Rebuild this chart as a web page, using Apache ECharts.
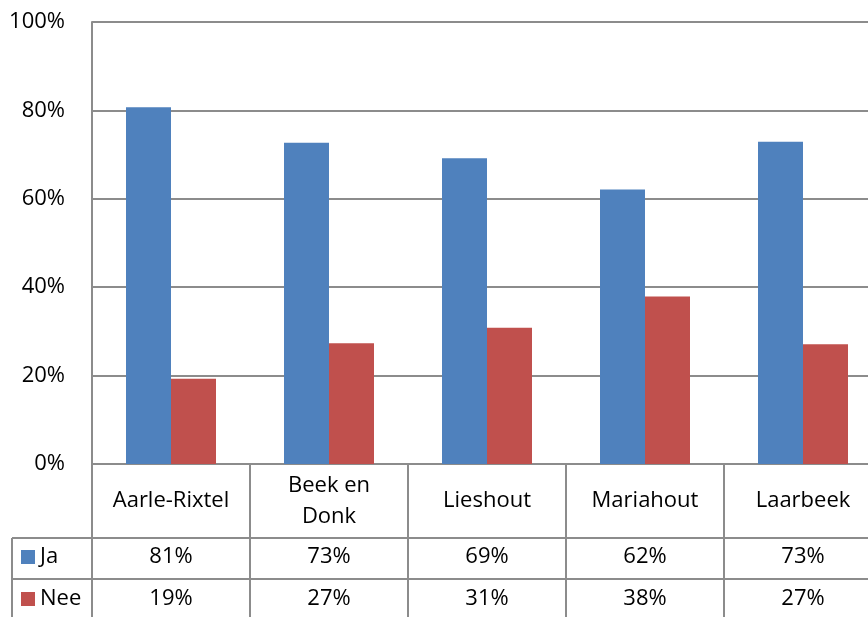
<!DOCTYPE html>
<html>
<head>
<meta charset="utf-8">
<script src="https://cdn.jsdelivr.net/npm/echarts@6/dist/echarts.min.js"></script>
<style>
  html, body { margin: 0; padding: 0; background: #fff; overflow: hidden; }
  /* wider than the window: the plot's right edge is cut off, as in the original */
  #chart { width: 882px; height: 617px; }
</style>
</head>
<body>
<div id="chart"></div>
<script>
const categories = ['Aarle-Rixtel', 'Beek en\nDonk', 'Lieshout', 'Mariahout', 'Laarbeek']
const jaValues = [80.7, 72.7, 69.2, 62.1, 72.9]
const neeValues = [19.3, 27.3, 30.8, 37.9, 27.1]
const yTicks = [0, 20, 40, 60, 80, 100]

const font = 'Open Sans'
const fontSize = 22
const lineColor = '#8c8c8c'

const plotLeft = 92
const plotTop = 22
const plotWidth = 790
const plotHeight = 442
const plotBottom = plotTop + plotHeight
const tableLeft = 12
const row1 = 538
const row2 = 579

const chart = echarts.init(document.getElementById('chart'))

const pct = v => Math.round(v) + '%'

const rowAxis = (values, margin) => ({
  type: 'category',
  position: 'bottom',
  data: values.map(pct),
  axisLine: { show: false },
  axisTick: { show: false },
  axisLabel: {
    interval: 0, margin, verticalAlign: 'middle',
    color: '#000', fontFamily: font, fontSize
  }
})

const option = {
  animation: false,
  grid: { left: plotLeft, top: plotTop, width: plotWidth, height: plotHeight, containLabel: false },
  legend: {
    orient: 'vertical',
    left: 21,
    top: 545,
    padding: 0,
    itemWidth: 14,
    itemHeight: 14,
    itemGap: 18,
    icon: 'rect',
    textStyle: { color: '#000', fontFamily: font, fontSize, lineHeight: 24 },
    data: ['Ja', 'Nee']
  },
  xAxis: [
    {
      type: 'category',
      position: 'bottom',
      data: categories,
      axisLine: { lineStyle: { color: lineColor, width: 2 } },
      axisTick: { show: true, interval: 0, length: 160, lineStyle: { color: lineColor, width: 2 } },
      axisLabel: {
        interval: 0, margin: 37, verticalAlign: 'middle', lineHeight: 31,
        color: '#000', fontFamily: font, fontSize
      }
    },
    rowAxis(jaValues, 93),
    rowAxis(neeValues, 135)
  ],
  yAxis: {
    type: 'value',
    min: 0,
    max: 100,
    interval: 20,
    axisLine: { show: true, lineStyle: { color: lineColor, width: 2 } },
    axisTick: { show: false },
    splitLine: { lineStyle: { color: lineColor, width: 2 } },
    axisLabel: {
      margin: 27,
      color: '#000', fontFamily: font, fontSize,
      formatter: v => yTicks.includes(v) ? v + '%' : ''
    }
  },
  series: [
    {
      name: 'Ja',
      type: 'bar',
      data: jaValues,
      barWidth: 45,
      barGap: '0%',
      itemStyle: { color: '#4F81BD' }
    },
    {
      name: 'Nee',
      type: 'bar',
      data: neeValues,
      barWidth: 45,
      itemStyle: { color: '#C0504D' }
    }
  ],
  graphic: [
    { type: 'line', silent: true, shape: { x1: tableLeft, y1: row1, x2: plotLeft + plotWidth, y2: row1 }, style: { stroke: lineColor, lineWidth: 2 } },
    { type: 'line', silent: true, shape: { x1: tableLeft, y1: row2, x2: plotLeft + plotWidth, y2: row2 }, style: { stroke: lineColor, lineWidth: 2 } },
    { type: 'line', silent: true, shape: { x1: tableLeft, y1: row1, x2: tableLeft, y2: 620 }, style: { stroke: lineColor, lineWidth: 2 } }
  ]
}

chart.setOption(option)
</script>
</body>
</html>
